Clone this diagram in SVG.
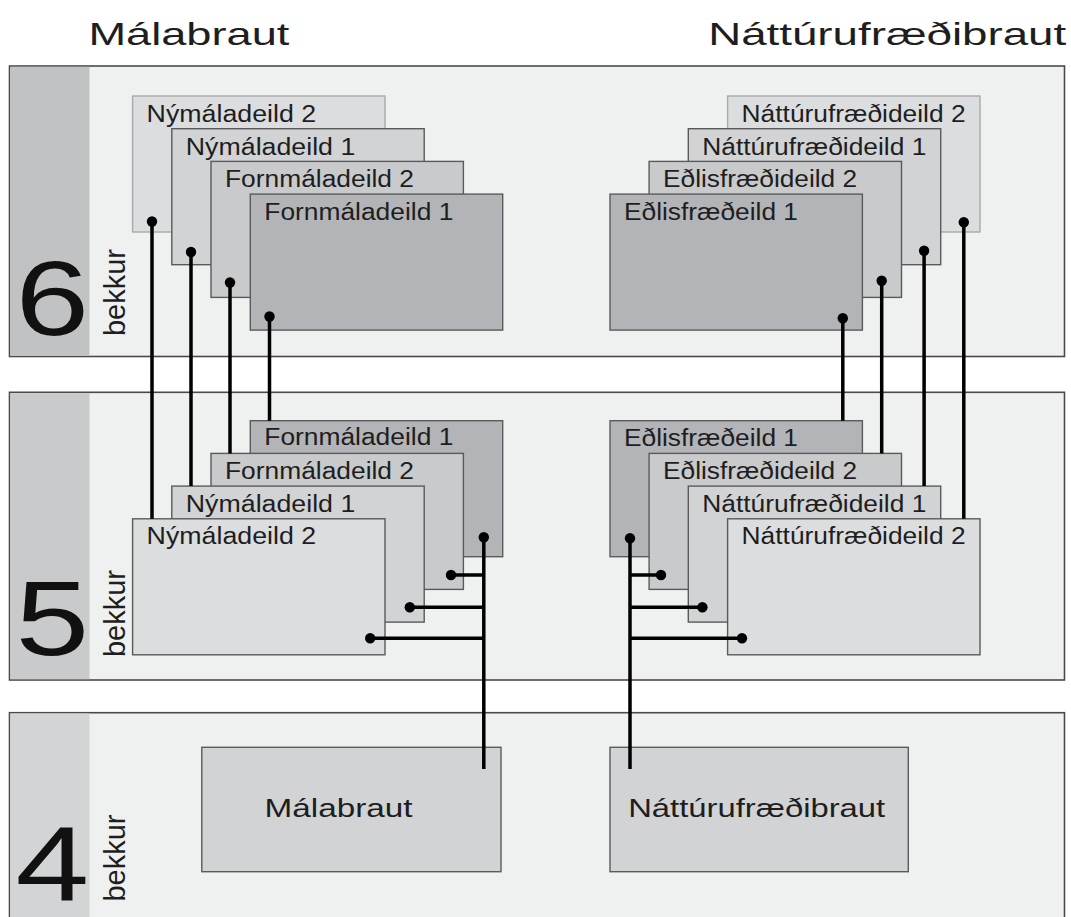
<svg xmlns="http://www.w3.org/2000/svg" width="1071" height="917" viewBox="0 0 1071 917">
<style>
.bg{fill:#ffffff}
.panel{fill:#eff1f0;stroke:#4a4a4a;stroke-width:1.6}
.strip{stroke:none}
.box{stroke:#5a5a5a;stroke-width:1.4}
.f1{fill:#b3b4b7}
.f2{fill:#c9cacc}
.f3{fill:#d2d3d5}
.f4{fill:#dcdddf}
.light{stroke:#a8a9aa}
.lbl{font-family:"Liberation Sans",Arial,sans-serif;font-size:23px;fill:#1e1e1e}
.big{font-family:"Liberation Sans",Arial,sans-serif;fill:#111}
.title{font-family:"Liberation Sans",Arial,sans-serif;font-size:32px;fill:#1e1e1e}
.bk{font-family:"Liberation Sans",Arial,sans-serif;font-size:30px;fill:#1e1e1e}
.ln{stroke:#000;stroke-width:3.5;fill:none}
.dot{fill:#000}
</style>
<rect class="bg" x="0" y="0" width="1071" height="917"/>
<g id="titles">
<text class="title" x="88.4" y="44.5" textLength="201" lengthAdjust="spacingAndGlyphs">Málabraut</text>
<text class="title" x="708.2" y="44.5" textLength="358" lengthAdjust="spacingAndGlyphs">Náttúrufræðibraut</text>
</g>
<g id="panel6">
<rect class="panel" x="9.5" y="66" width="1055" height="290.5"/>
<rect class="strip" x="10.3" y="66.8" width="79.2" height="288.9" fill="#c1c2c3"/>
<text class="big" font-size="106" transform="translate(15.4,335) scale(1.25,1)">6</text>
<text class="bk" transform="translate(125,336) rotate(-90)" textLength="87" lengthAdjust="spacingAndGlyphs">bekkur</text>
</g>
<g id="panel5">
<rect class="panel" x="9.5" y="392.3" width="1055" height="287.7"/>
<rect class="strip" x="10.3" y="393.1" width="79.2" height="286.1" fill="#c9cacb"/>
<text class="big" font-size="106" transform="translate(15.4,655) scale(1.25,1)">5</text>
<text class="bk" transform="translate(125,657) rotate(-90)" textLength="87" lengthAdjust="spacingAndGlyphs">bekkur</text>
</g>
<g id="panel4">
<rect class="panel" x="9.5" y="712.7" width="1055" height="230"/>
<rect class="strip" x="10.3" y="713.5" width="79.2" height="220" fill="#d3d4d5"/>
<text class="big" font-size="106" transform="translate(15.6,901) scale(1.25,1)">4</text>
<text class="bk" transform="translate(125,901.5) rotate(-90)" textLength="87" lengthAdjust="spacingAndGlyphs">bekkur</text>
</g>
<g id="n6-nymal2"><rect class="box f4 light" x="132.6" y="96" width="252.4" height="136"/><text class="lbl" x="146.6" y="122" textLength="169.5" lengthAdjust="spacingAndGlyphs">Nýmáladeild 2</text></g>
<g id="n6-nymal1"><rect class="box f3" x="171.8" y="128.7" width="252.4" height="136"/><text class="lbl" x="185.8" y="154.7" textLength="169.5" lengthAdjust="spacingAndGlyphs">Nýmáladeild 1</text></g>
<g id="n6-forn2"><rect class="box f2" x="211" y="161.4" width="252.4" height="136"/><text class="lbl" x="225" y="187.4" textLength="189" lengthAdjust="spacingAndGlyphs">Fornmáladeild 2</text></g>
<g id="n6-forn1"><rect class="box f1" x="250.3" y="194.1" width="252.4" height="136"/><text class="lbl" x="264.3" y="220.1" textLength="189" lengthAdjust="spacingAndGlyphs">Fornmáladeild 1</text></g>
<g id="n6-natt2"><rect class="box f4 light" x="727.6" y="96" width="252.4" height="136"/><text class="lbl" x="741.6" y="122" textLength="224" lengthAdjust="spacingAndGlyphs">Náttúrufræðideild 2</text></g>
<g id="n6-natt1"><rect class="box f3" x="688.3" y="128.7" width="252.4" height="136"/><text class="lbl" x="702.3" y="154.7" textLength="224" lengthAdjust="spacingAndGlyphs">Náttúrufræðideild 1</text></g>
<g id="n6-edl2"><rect class="box f2" x="649.1" y="161.4" width="252.4" height="136"/><text class="lbl" x="663.1" y="187.4" textLength="194" lengthAdjust="spacingAndGlyphs">Eðlisfræðideild 2</text></g>
<g id="n6-edl1"><rect class="box f1" x="610" y="194.1" width="252.4" height="136"/><text class="lbl" x="624" y="220.1" textLength="174" lengthAdjust="spacingAndGlyphs">Eðlisfræðeild 1</text></g>
<g id="n5-forn1"><rect class="box f1" x="250.3" y="420.7" width="252.4" height="136"/><text class="lbl" x="264.3" y="445.2" textLength="189" lengthAdjust="spacingAndGlyphs">Fornmáladeild 1</text></g>
<g id="n5-forn2"><rect class="box f2" x="211" y="453.4" width="252.4" height="136"/><text class="lbl" x="225" y="478.9" textLength="189" lengthAdjust="spacingAndGlyphs">Fornmáladeild 2</text></g>
<g id="n5-nymal1"><rect class="box f3" x="171.8" y="486.1" width="252.4" height="136"/><text class="lbl" x="185.8" y="511.6" textLength="169.5" lengthAdjust="spacingAndGlyphs">Nýmáladeild 1</text></g>
<g id="n5-nymal2"><rect class="box f4" x="132.6" y="518.8" width="252.4" height="136"/><text class="lbl" x="146.6" y="544.3" textLength="169.5" lengthAdjust="spacingAndGlyphs">Nýmáladeild 2</text></g>
<g id="n5-edl1"><rect class="box f1" x="610" y="420.7" width="252.4" height="136"/><text class="lbl" x="624" y="445.7" textLength="174" lengthAdjust="spacingAndGlyphs">Eðlisfræðeild 1</text></g>
<g id="n5-edl2"><rect class="box f2" x="649.1" y="453.4" width="252.4" height="136"/><text class="lbl" x="663.1" y="478.9" textLength="194" lengthAdjust="spacingAndGlyphs">Eðlisfræðideild 2</text></g>
<g id="n5-natt1"><rect class="box f3" x="688.3" y="486.1" width="252.4" height="136"/><text class="lbl" x="702.3" y="511.6" textLength="224" lengthAdjust="spacingAndGlyphs">Náttúrufræðideild 1</text></g>
<g id="n5-natt2"><rect class="box f4" x="727.6" y="518.8" width="252.4" height="136"/><text class="lbl" x="741.6" y="544.3" textLength="224" lengthAdjust="spacingAndGlyphs">Náttúrufræðideild 2</text></g>
<g id="n4-mala"><rect class="box f3" x="201.8" y="747.3" width="299.2" height="124.4"/><text class="lbl" font-size="25" style="font-size:25px" x="264.5" y="816.7" textLength="148" lengthAdjust="spacingAndGlyphs">Málabraut</text></g>
<g id="n4-natt"><rect class="box f3" x="610" y="747.3" width="298.3" height="124.4"/><text class="lbl" style="font-size:25px" x="628.2" y="816.7" textLength="257" lengthAdjust="spacingAndGlyphs">Náttúrufræðibraut</text></g>
<g id="connectors">
<path class="ln" d="M152,221.5V518.8M191,252V486.1M230,282.5V453.4M269.5,316.5V420.7"/>
<path class="ln" d="M963.8,222.3V518.8M924.1,250.7V486.1M881.7,280.7V453.4M842.8,318.3V420.7"/>
<path class="ln" d="M483.8,537.3V769M451,575H483.8M409.8,607.3H483.8M370.2,638.3H483.8"/>
<path class="ln" d="M630,538.3V769M661,575H630M702.4,607.3H630M742,638.3H630"/>
<g class="dot">
<circle cx="152" cy="221.5" r="5.2"/><circle cx="191" cy="252" r="5.2"/><circle cx="230" cy="282.5" r="5.2"/><circle cx="269.5" cy="316.5" r="5.2"/>
<circle cx="963.8" cy="222.3" r="5.2"/><circle cx="924.1" cy="250.7" r="5.2"/><circle cx="881.7" cy="280.7" r="5.2"/><circle cx="842.8" cy="318.3" r="5.2"/>
<circle cx="483.8" cy="537.3" r="5.2"/><circle cx="451" cy="575" r="5.2"/><circle cx="409.8" cy="607.3" r="5.2"/><circle cx="370.2" cy="638.3" r="5.2"/>
<circle cx="630" cy="538.3" r="5.2"/><circle cx="661" cy="575" r="5.2"/><circle cx="702.4" cy="607.3" r="5.2"/><circle cx="742" cy="638.3" r="5.2"/>
</g>
</g>
</svg>
